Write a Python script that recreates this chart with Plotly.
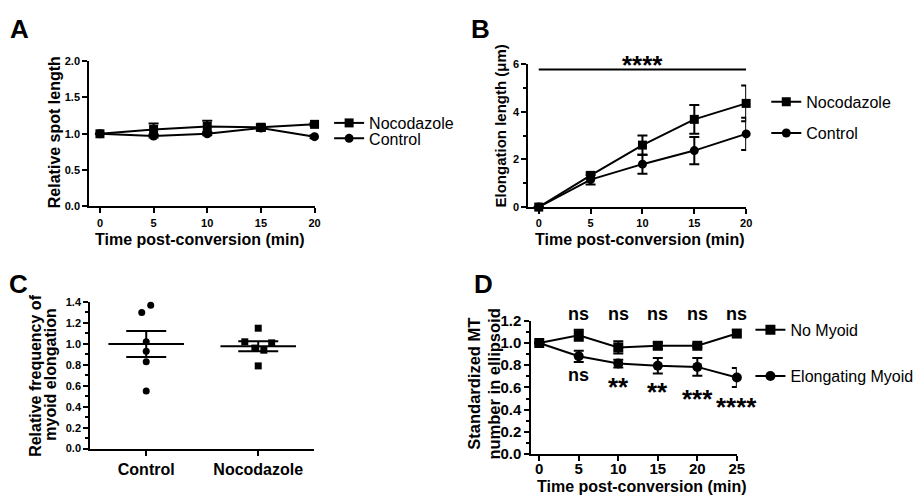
import numpy as np
import plotly.graph_objects as go

# ---------------- data ----------------
time_A = [0, 5, 10, 15, 20]
noc_A = [1.00, 1.06, 1.10, 1.09, 1.13]
noc_A_err = [0.0, 0.08, 0.08, 0.04, 0.02]
ctrl_A = [1.00, 0.97, 1.00, 1.08, 0.96]
ctrl_A_err = [0.0, 0.02, 0.02, 0.04, 0.02]

time_B = [0, 5, 10, 15, 20]
noc_B = [0.0, 1.33, 2.60, 3.68, 4.35]
noc_B_err = [0.0, 0.12, 0.40, 0.60, 0.75]
ctrl_B = [0.0, 1.15, 1.80, 2.37, 3.07]
ctrl_B_err = [0.0, 0.20, 0.40, 0.57, 0.68]
sig_B_span = [0, 20]
sig_B_level = 5.77
sig_B_label = "****"

groups_C = ["Control", "Nocodazole"]
ctrl_C = [1.37, 1.30, 1.02, 0.93, 0.83, 0.55]
noc_C = [1.15, 1.02, 1.01, 0.96, 0.94, 0.79]

time_D = [0, 5, 10, 15, 20, 25]
nomyoid_D = [1.00, 1.07, 0.96, 0.975, 0.975, 1.085]
nomyoid_D_err = [0.0, 0.05, 0.055, 0.03, 0.015, 0.03]
elong_D = [1.00, 0.88, 0.815, 0.795, 0.785, 0.69]
elong_D_err = [0.0, 0.05, 0.035, 0.07, 0.08, 0.085]
sig_time_D = [5, 10, 15, 20, 25]
sig_top_D = ["ns", "ns", "ns", "ns", "ns"]
sig_bottom_D = ["ns", "**", "**", "***", "****"]
sig_bottom_level_D = [0.715, 0.60, 0.555, 0.50, 0.425]

# ---------------- layout helpers ----------------
W, H = 921, 502
F = "Liberation Sans, Arial, sans-serif"
BLACK = "black"

def px_x(p):
    return p / W

def px_y(p):
    return 1 - p / H

jit_ctrl = [0.04, -0.04, 0.0, 0.0, 0.0, 0.0]
jit_noc = [0.0, -0.12, 0.12, -0.03, 0.05, 0.0]

fig = go.Figure()

def line_trace(x, y, err, name, symbol, xa, ya, legend, msize=9):
    return go.Scatter(
        x=x, y=y, name=name, mode="lines+markers",
        xaxis=xa, yaxis=ya, legend=legend, cliponaxis=False,
        line=dict(color=BLACK, width=2),
        marker=dict(symbol=symbol, size=msize, color=BLACK),
        error_y=dict(type="data", array=err, visible=True,
                     color=BLACK, thickness=2, width=5),
    )

fig.add_trace(line_trace(time_A, noc_A, noc_A_err, "Nocodazole", "square", "x", "y", "legend"))
fig.add_trace(line_trace(time_A, ctrl_A, ctrl_A_err, "Control", "circle", "x", "y", "legend2"))
fig.add_trace(line_trace(time_B, noc_B, noc_B_err, "Nocodazole", "square", "x2", "y2", "legend3"))
fig.add_trace(line_trace(time_B, ctrl_B, ctrl_B_err, "Control", "circle", "x2", "y2", "legend4"))
fig.add_trace(line_trace(time_D, nomyoid_D, nomyoid_D_err, "No Myoid", "square", "x4", "y4", "legend5", 10))
fig.add_trace(line_trace(time_D, elong_D, elong_D_err, "Elongating Myoid", "circle", "x4", "y4", "legend6", 10))

for gi, (vals, jit, sym) in enumerate([(ctrl_C, jit_ctrl, "circle"), (noc_C, jit_noc, "square")]):
    arr = np.array(vals)
    fig.add_trace(go.Scatter(
        x=[gi + j for j in jit], y=vals, mode="markers", xaxis="x3", yaxis="y3",
        showlegend=False, cliponaxis=False,
        marker=dict(symbol=sym, size=7, color=BLACK)))
    mean = arr.mean()
    sem = arr.std(ddof=1) / np.sqrt(len(arr))
    fig.add_trace(go.Scatter(
        x=[gi], y=[mean], mode="markers", xaxis="x3", yaxis="y3",
        showlegend=False, cliponaxis=False,
        marker=dict(symbol="line-ew", size=54, color=BLACK,
                    line=dict(color=BLACK, width=2)),
        error_y=dict(type="data", array=[sem], visible=True,
                     color=BLACK, thickness=2, width=20)))

def axis(domain, rng, tickfont=11, **kw):
    d = dict(domain=domain, range=rng, showline=True, linecolor=BLACK, linewidth=2,
             ticks="outside", ticklen=5, tickwidth=2, tickcolor=BLACK,
             showgrid=False, zeroline=False, fixedrange=True,
             tickfont=dict(family=F, size=tickfont, color=BLACK, weight=700))
    d.update(kw)
    return d

def minor(dt):
    return dict(dtick=dt, ticks="outside", ticklen=3, tickwidth=2, tickcolor=BLACK, showgrid=False)

layout = dict(
    width=W, height=H, margin=dict(l=0, r=0, t=0, b=0),
    paper_bgcolor="white", plot_bgcolor="white",
    font=dict(family=F, color=BLACK),
    xaxis=axis([px_x(90), px_x(317.3)], [-1, 20], tickvals=time_A, anchor="y"),
    yaxis=axis([px_y(204.3), px_y(54)], [0, 2], dtick=0.5, tickformat=".1f", anchor="x"),
    xaxis2=axis([px_x(533), px_x(752.7)], [-1, 20], tickvals=time_B, anchor="y2"),
    yaxis2=axis([px_y(205), px_y(57)], [0, 6], dtick=2, minor=minor(1), anchor="x2"),
    xaxis3=axis([px_x(91), px_x(317)], [-0.5, 1.5], tickfont=16, tickvals=[0, 1], ticktext=groups_C, anchor="y3"),
    yaxis3=axis([px_y(455), px_y(303.3)], [0, 1.4], dtick=0.2, tickformat=".1f", minor=minor(0.1), anchor="x3"),
    xaxis4=axis([px_x(536), px_x(743.3)], [-1, 25], tickfont=15, tickvals=time_D, anchor="y4",
                ticklabelstandoff=-5),
    yaxis4=axis([px_y(460.7), px_y(322.7)], [0, 1.2], tickfont=15, dtick=0.2, tickformat=".1f", minor=minor(0.1), anchor="x4"),
)

def leg(text_x, my):
    return dict(x=px_x(text_x - 40), y=px_y(my), xanchor="left", yanchor="middle",
                bgcolor="rgba(0,0,0,0)", borderwidth=0, itemwidth=30,
                font=dict(family=F, size=16, color=BLACK))

layout["legend"] = leg(372, 118)
layout["legend2"] = leg(372, 134)
layout["legend3"] = leg(813, 96)
layout["legend4"] = leg(813, 128.5)
layout["legend5"] = leg(797, 332)
layout["legend6"] = leg(797, 380)

fig.update_layout(**layout)

ann = []
def txt(x, y, s, size, angle=0, bold=True):
    ann.append(dict(x=px_x(x), y=px_y(y), xref="paper", yref="paper", text=s,
                    showarrow=False, textangle=angle, xanchor="center", yanchor="middle",
                    font=dict(family=F, size=size, color=BLACK, weight=700 if bold else 400)))

txt(20, 21, "A", 26)
txt(485, 21, "B", 26)
txt(19, 285, "C", 26)
txt(488, 285, "D", 26)
txt(55, 128, "Relative spot length", 16, -90)
txt(202, 239, "Time post-conversion (min)", 16)
txt(505, 121, "Elongation length (μm)", 15, -90)
txt(646, 239, "Time post-conversion (min)", 16)
txt(35, 379, "Relative frequency of", 16, -90)
txt(51, 379, "myoid elongation", 16, -90)
txt(478, 388, "Standardized MT", 16.5, -90)
txt(498, 388, "number in ellipsoid", 16.5, -90)
txt(648, 494, "Time post-conversion (min)", 16)

fig.add_shape(type="line", xref="x2", yref="y2", x0=sig_B_span[0], x1=sig_B_span[1],
              y0=sig_B_level, y1=sig_B_level, line=dict(color=BLACK, width=2))
ann.append(dict(x=float(np.mean(sig_B_span)), y=sig_B_level, xref="x2", yref="y2", text=sig_B_label,
                showarrow=False, yanchor="middle", yshift=4.5,
                font=dict(family=F, size=26, color=BLACK, weight=700)))
for t, s in zip(sig_time_D, sig_top_D):
    ann.append(dict(x=t, y=1.2, xref="x4", yref="y4", text=s, showarrow=False,
                    yanchor="middle", yshift=7,
                    font=dict(family=F, size=18, color=BLACK, weight=700)))
for t, s, lv in zip(sig_time_D, sig_bottom_D, sig_bottom_level_D):
    ann.append(dict(x=t, y=lv, xref="x4", yref="y4", text=s, showarrow=False,
                    yanchor="middle",
                    font=dict(family=F, size=26 if "*" in s else 18, color=BLACK, weight=700)))

fig.update_layout(annotations=ann)
fig.write_html("out.html", config={"displayModeBar": False},
               post_script="document.body.style.margin='0px';document.documentElement.style.overflow='hidden';")
